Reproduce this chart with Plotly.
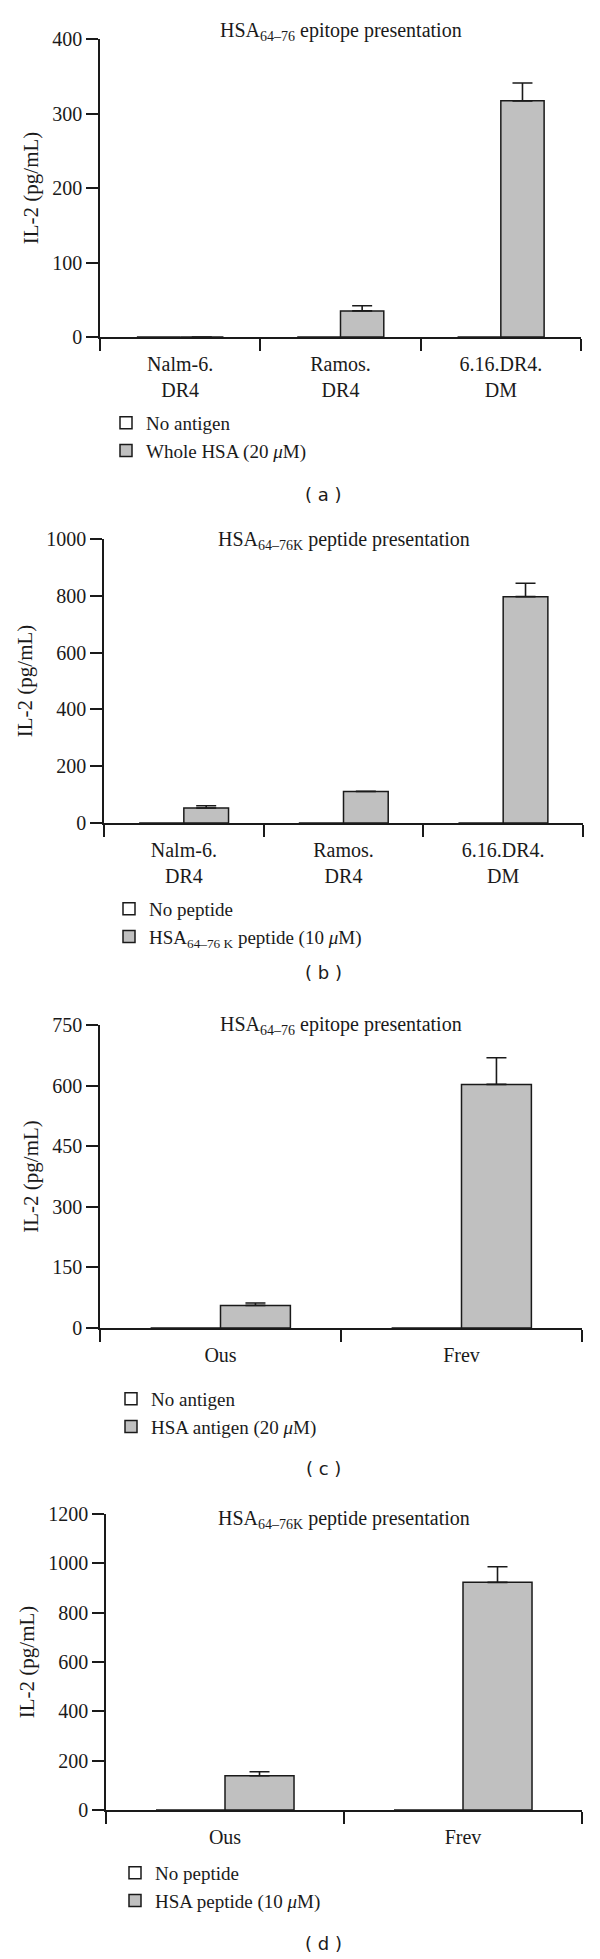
import plotly.graph_objects as go

W, H = 600, 1959
PAGE = 8  # the browser's body margin shifts the figure by this much
SERIF = "Liberation Serif"
INK = "#1a1a1a"
GREY = "#c0c0c0"

# --- data ---
cells_ab = ["Nalm-6.<br>DR4", "Ramos.<br>DR4", "6.16.DR4.<br>DM"]
cells_cd = ["Ous", "Frev"]

a_none = [0, 0, 0]
a_hsa = [0, 35, 317]
a_err = [0, 7, 24]

b_none = [0, 0, 0]
b_pep = [53, 111, 797]
b_err = [8, 1, 47]

c_none = [0, 0]
c_hsa = [56, 603]
c_err = [6, 66]

d_none = [0, 0]
d_pep = [139, 923]
d_err = [16, 63]

a_ticks = [0, 100, 200, 300, 400]
b_ticks = [0, 200, 400, 600, 800, 1000]
c_ticks = [0, 150, 300, 450, 600, 750]
d_ticks = [0, 200, 400, 600, 800, 1000, 1200]

titles = [
    "HSA<sub>64–76</sub> epitope presentation",
    "HSA<sub>64–76K</sub> peptide presentation",
    "HSA<sub>64–76</sub> epitope presentation",
    "HSA<sub>64–76K</sub> peptide presentation",
]
legend_names = [
    ("No antigen", "Whole HSA (20 <i>μ</i>M)"),
    ("No peptide", "HSA<sub>64–76 K</sub> peptide (10 <i>μ</i>M)"),
    ("No antigen", "HSA antigen (20 <i>μ</i>M)"),
    ("No peptide", "HSA peptide (10 <i>μ</i>M)"),
]
captions = ["( a )", "( b )", "( c )", "( d )"]

panels = [
    (cells_ab, a_none, a_hsa, a_err, a_ticks),
    (cells_ab, b_none, b_pep, b_err, b_ticks),
    (cells_cd, c_none, c_hsa, c_err, c_ticks),
    (cells_cd, d_none, d_pep, d_err, d_ticks),
]

# pixel layout of each panel:
# x0, x1, y_top, y_zero, bar width, title y, legend x, legend y, caption y
geom = [
    (100, 581, 39, 337, 0.27, 32, 106, 404, 495),
    (104, 583, 539, 823, 0.28, 540, 109, 890, 972),
    (100, 582, 1025, 1328, 0.29, 1025, 111, 1380, 1468),
    (106, 582, 1514, 1810, 0.29, 1519, 115, 1854, 1943),
]


def px(x):
    return (x - PAGE) / W


def py(y):
    return 1 - (y - PAGE) / H


fig = go.Figure()
annotations = []

for i, (cats, none, vals, err, ticks) in enumerate(panels):
    n = i + 1
    sfx = "" if n == 1 else str(n)
    x0, x1, ytop, yzero, bw, ty, lx, ly, capy = geom[i]
    leg = "legend" if n == 1 else f"legend{n}"

    fig.add_trace(go.Bar(
        x=cats, y=none, name=legend_names[i][0],
        xaxis="x" + sfx, yaxis="y" + sfx, legend=leg,
        width=bw, offset=-bw,
        marker=dict(color="white", line=dict(color=INK, width=1.5)),
    ))
    fig.add_trace(go.Bar(
        x=cats, y=vals, name=legend_names[i][1],
        xaxis="x" + sfx, yaxis="y" + sfx, legend=leg,
        width=bw, offset=0,
        marker=dict(color=GREY, line=dict(color=INK, width=1.5)),
        error_y=dict(type="data", symmetric=False, array=err,
                     arrayminus=[0] * len(err), color=INK,
                     thickness=1.6, width=10),
    ))

    fig.update_layout({
        "xaxis" + sfx: dict(
            domain=[px(x0), px(x1)], anchor="y" + sfx,
            type="category", range=[-0.5, len(cats) - 0.5],
            tickson="boundaries", ticks="outside", ticklen=12,
            tickwidth=1.5, tickcolor=INK, automargin=False,
            showline=True, linecolor=INK, linewidth=1.5,
            showgrid=False, zeroline=False, ticklabelstandoff=8,
            tickfont=dict(family=SERIF, size=20, color=INK),
        ),
        "yaxis" + sfx: dict(
            domain=[py(yzero), py(ytop)], anchor="x" + sfx,
            range=[0, ticks[-1]], tickvals=ticks, automargin=False,
            ticks="outside", ticklen=12, tickwidth=1.5, tickcolor=INK,
            showline=True, linecolor=INK, linewidth=1.5,
            showgrid=False, zeroline=False,
            tickfont=dict(family=SERIF, size=20, color=INK),
            title=dict(text="IL-2 (pg/mL)", standoff=8,
                       font=dict(family=SERIF, size=21, color=INK)),
        ),
        leg: dict(
            x=px(lx), y=py(ly), xanchor="left", yanchor="top",
            font=dict(family=SERIF, size=19, color=INK),
            bgcolor="rgba(0,0,0,0)", tracegroupgap=0,
        ),
    })

    annotations.append(dict(
        text=titles[i], xref="x" + sfx + " domain", x=0.5,
        yref="paper", y=py(ty), yanchor="middle", showarrow=False,
        font=dict(family=SERIF, size=20, color=INK),
    ))
    annotations.append(dict(
        text=captions[i], xref="paper", x=px(324), yref="paper",
        y=py(capy), yanchor="middle", showarrow=False,
        font=dict(family="DejaVu Sans", size=18, color=INK),
    ))

fig.update_layout(
    width=W, height=H,
    margin=dict(l=0, r=0, t=0, b=0, autoexpand=False),
    paper_bgcolor="white", plot_bgcolor="white",
    barmode="overlay", showlegend=True,
    annotations=annotations,
)

fig.write_html("out.html")
